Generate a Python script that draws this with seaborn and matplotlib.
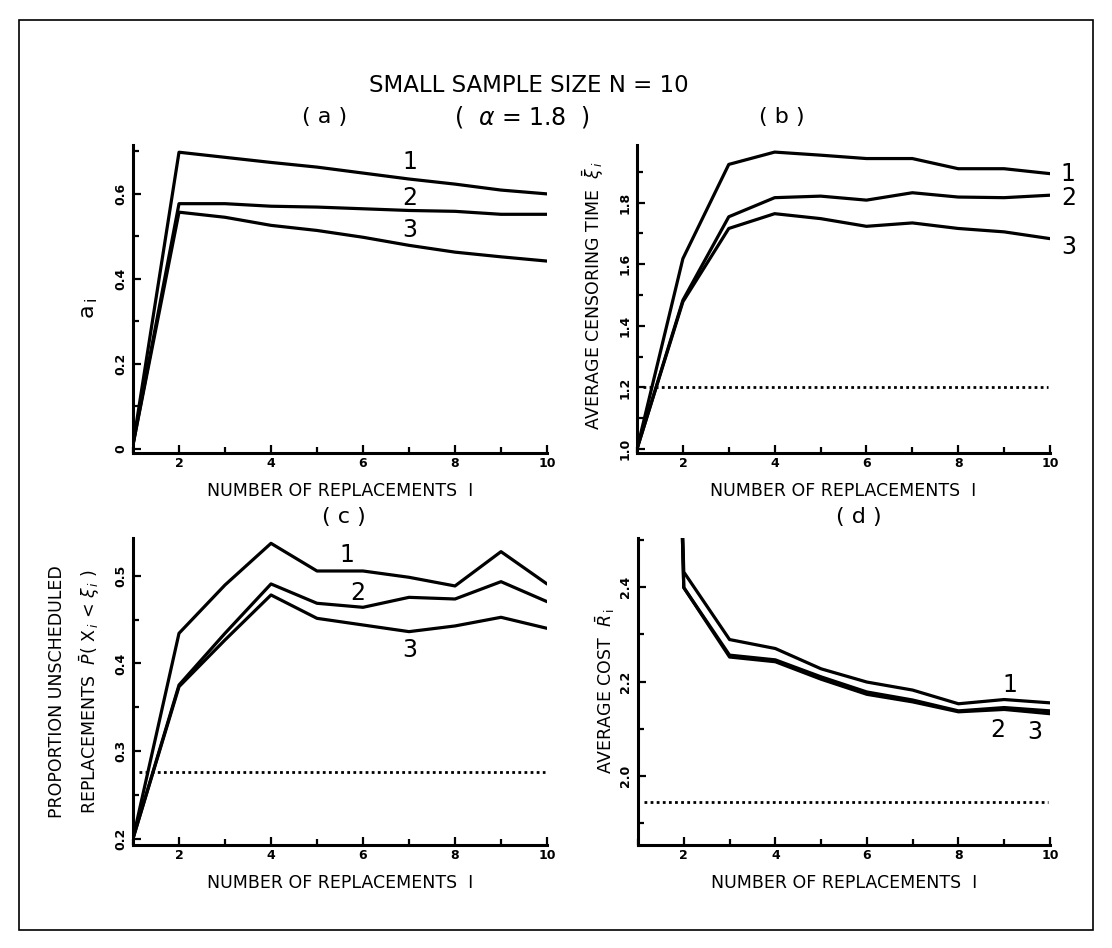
import numpy as np
import pandas as pd
import seaborn as sns
import matplotlib
matplotlib.use("Agg")
import matplotlib.pyplot as plt
from matplotlib.patches import Rectangle
from matplotlib.ticker import MultipleLocator

# ---------------- data ----------------
replacements = [1, 2, 3, 4, 5, 6, 7, 8, 9, 10]

# (a) a_i
a_s1 = [0.01, 0.698, 0.686, 0.674, 0.663, 0.649, 0.635, 0.623, 0.609, 0.600]
a_s2 = [0.01, 0.577, 0.577, 0.571, 0.569, 0.565, 0.561, 0.559, 0.552, 0.552]
a_s3 = [0.01, 0.557, 0.545, 0.526, 0.514, 0.498, 0.479, 0.463, 0.452, 0.442]

# (b) average censoring time
b_s1 = [1.00, 1.618, 1.924, 1.964, 1.954, 1.943, 1.943, 1.910, 1.910, 1.894]
b_s2 = [1.00, 1.483, 1.754, 1.816, 1.821, 1.808, 1.832, 1.818, 1.816, 1.824]
b_s3 = [1.00, 1.478, 1.716, 1.764, 1.748, 1.723, 1.734, 1.716, 1.705, 1.683]
b_ref = 1.2

# (c) proportion unscheduled replacements
c_s1 = [0.20, 0.4345, 0.4897, 0.5373, 0.5057, 0.5057, 0.4985, 0.4886, 0.5278, 0.4909]
c_s2 = [0.20, 0.3754, 0.4345, 0.4909, 0.4688, 0.4642, 0.4756, 0.4737, 0.4935, 0.4707]
c_s3 = [0.20, 0.3735, 0.4269, 0.4783, 0.4516, 0.4440, 0.4364, 0.4429, 0.4528, 0.4402]
c_ref = 0.276

# (d) average cost
d_s1 = [6.0, 2.432, 2.289, 2.270, 2.227, 2.199, 2.182, 2.153, 2.162, 2.155]
d_s2 = [5.9, 2.399, 2.256, 2.246, 2.210, 2.178, 2.161, 2.138, 2.145, 2.138]
d_s3 = [5.9, 2.399, 2.252, 2.242, 2.205, 2.173, 2.157, 2.136, 2.141, 2.132]
d_ref = 1.946

series_names = ["1", "2", "3"]

# ---------------- style ----------------
sns.set_style("ticks")
plt.rcParams["font.family"] = ["DejaVu Sans"]
plt.rcParams["mathtext.fontset"] = "dejavusans"
for key in ("text.color", "axes.labelcolor", "xtick.color", "ytick.color", "axes.edgecolor"):
    plt.rcParams[key] = "black"

fig = plt.figure(figsize=(11.12, 9.48), dpi=100)
W, H = 1112.0, 948.0

def axes_px(left, top, right, bottom):
    return fig.add_axes([left / W, 1 - bottom / H, (right - left) / W, (bottom - top) / H])

ax_a = axes_px(133, 145, 547, 453)
ax_b = axes_px(637, 145, 1050, 453)
ax_c = axes_px(133, 538, 547, 845)
ax_d = axes_px(638, 538, 1050, 845)

LW = 2.3
LABEL_FS = 12.5

def draw(ax, ys, ylim, major, minor, ref=None):
    for y in ys:
        df = pd.DataFrame({"x": replacements, "y": y})
        sns.lineplot(data=df, x="x", y="y", ax=ax, color="black", lw=LW,
                     estimator=None, sort=False)
    if ref is not None:
        ax.axhline(ref, xmin=0.015, xmax=0.995, color="black", lw=2.0,
                   linestyle=(0, (1, 1.2)))
    ax.set_xlim(1, 10)
    ax.set_ylim(*ylim)
    ax.xaxis.set_major_locator(MultipleLocator(2))
    ax.xaxis.set_minor_locator(MultipleLocator(1))
    ax.yaxis.set_major_locator(MultipleLocator(major))
    ax.yaxis.set_minor_locator(MultipleLocator(minor))
    sns.despine(ax=ax)
    for s in ("left", "bottom"):
        ax.spines[s].set_linewidth(2.2)
        ax.spines[s].set_color("black")
    ax.tick_params(which="both", direction="in", color="black", labelcolor="black", width=1.6)
    ax.tick_params(which="major", length=6)
    ax.tick_params(which="minor", length=4)
    ax.tick_params(axis="x", labelsize=9, pad=3)
    ax.tick_params(axis="y", labelsize=9, pad=4)
    for lab in ax.get_xticklabels():
        lab.set_fontweight("bold")
    for lab in ax.get_yticklabels():
        lab.set_fontweight("bold")
        lab.set_rotation(90)
        lab.set_verticalalignment("center")
    ax.set_xlabel("NUMBER OF REPLACEMENTS  I", fontsize=LABEL_FS, color="black")
    ax.xaxis.set_label_coords(0.5, -0.094)
    ax.set_facecolor("white")

draw(ax_a, [a_s1, a_s2, a_s3], (-0.0094, 0.715), 0.2, 0.1)
ax_a.set_yticks([0, 0.2, 0.4, 0.6])
ax_a.set_yticklabels(["0", "0.2", "0.4", "0.6"], rotation=90, va="center", fontweight="bold")
ax_a.set_ylabel(r"a$_{\,\mathrm{i}}$", fontsize=16, va="center", color="black")
ax_a.yaxis.set_label_coords(-0.104, 0.47)

draw(ax_b, [b_s1, b_s2, b_s3], (0.987, 1.987), 0.2, 0.1, b_ref)
ax_b.set_ylabel(r"AVERAGE CENSORING TIME  $\bar{\xi}_{\,i}$", fontsize=LABEL_FS, va="center", color="black")
ax_b.yaxis.set_label_coords(-0.107, 0.51)

draw(ax_c, [c_s1, c_s2, c_s3], (0.1926, 0.5434), 0.1, 0.05, c_ref)
ax_c.set_ylabel("PROPORTION UNSCHEDULED\n" + r"REPLACEMENTS  $\bar{P}$( X$_{\,i}$ < $\xi_{\,i}$ )",
                fontsize=LABEL_FS, linespacing=1.6, va="center", color="black")
ax_c.yaxis.set_label_coords(-0.14, 0.5)

draw(ax_d, [d_s1, d_s2, d_s3], (1.854, 2.504), 0.2, 0.1, d_ref)
ax_d.set_ylabel(r"AVERAGE COST  $\bar{R}_{\,\mathrm{i}}$", fontsize=LABEL_FS, va="center", color="black")
ax_d.yaxis.set_label_coords(-0.08, 0.5)

# series labels
lab_fs = 17
for ax, pos in [
    (ax_a, [(7.02, 0.675), (7.02, 0.590), (7.02, 0.515)]),
    (ax_b, [(10.4, 1.894), (10.4, 1.815), (10.4, 1.655)]),
    (ax_c, [(5.65, 0.524), (5.89, 0.4806), (7.02, 0.4154)]),
    (ax_d, [(9.12, 2.193), (8.86, 2.098), (9.67, 2.093)]),
]:
    for name, (x, y) in zip(series_names, pos):
        ax.text(x, y, name, fontsize=lab_fs, ha="center", va="center", clip_on=False, color="black")

# titles
fig.text(529 / W, 1 - 85 / H, "SMALL SAMPLE SIZE N = 10", fontsize=16.5, ha="center", va="center", color="black")
fig.text(522 / W, 1 - 117 / H, r"(  $\alpha$ = 1.8  )", fontsize=17, ha="center", va="center", color="black")
fig.text(325 / W, 1 - 117 / H, "( a )", fontsize=16, ha="center", va="center", color="black")
fig.text(782 / W, 1 - 117 / H, "( b )", fontsize=16, ha="center", va="center", color="black")
fig.text(344 / W, 1 - 517 / H, "( c )", fontsize=16, ha="center", va="center", color="black")
fig.text(859 / W, 1 - 517 / H, "( d )", fontsize=16, ha="center", va="center", color="black")

# outer frame
fig.patches.append(Rectangle((19 / W, 1 - 930 / H), (1093 - 19) / W, (930 - 20) / H,
                             transform=fig.transFigure, fill=False, ec="black", lw=1.2))

fig.savefig("out.png", dpi=100, facecolor="white")
